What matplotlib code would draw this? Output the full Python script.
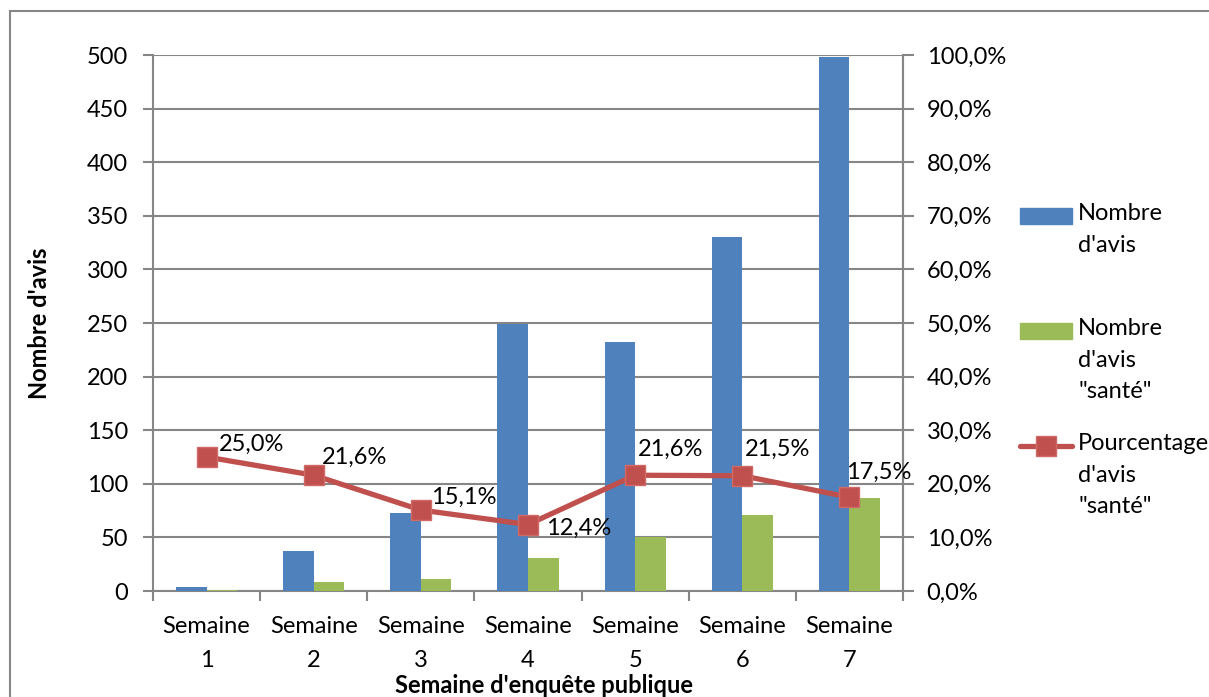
import matplotlib
matplotlib.use("Agg")
import matplotlib.pyplot as plt
from matplotlib.patches import Rectangle
from matplotlib.lines import Line2D
from matplotlib.ticker import FuncFormatter, MultipleLocator
import numpy as np

plt.rcParams['font.family'] = ['Lato', 'DejaVu Sans']

# data
semaines = ["Semaine\n1", "Semaine\n2", "Semaine\n3", "Semaine\n4",
            "Semaine\n5", "Semaine\n6", "Semaine\n7"]
nb_avis = [4, 37, 73, 249, 232, 330, 498]
nb_sante = [1, 8, 11, 31, 50, 71, 87]
pct_sante = [25.0, 21.6, 15.1, 12.4, 21.6, 21.5, 17.5]
legend_labels = ["Nombre\nd'avis", "Nombre\nd'avis\n\"santé\"",
                 "Pourcentage\nd'avis\n\"santé\""]

# where Excel put each data label (pixels from the marker)
label_offsets = [(12, 13), (8, 18), (10, 13), (18, -4), (3, 26), (3, 26), (-3, 25)]

BLUE = "#4F81BD"
GREEN = "#9BBB59"
RED = "#C0504D"
GRID = "#868686"
FS = 17

W, H = 1209, 697
fig = plt.figure(figsize=(W / 100, H / 100), dpi=100)
ax = fig.add_axes([153 / W, 1 - 591 / H, 750 / W, 536 / H])
ax2 = ax.twinx()

x = np.arange(len(semaines))
bw = 0.285
ax.bar(x - bw / 2, nb_avis, bw, color=BLUE, zorder=3)
ax.bar(x + bw / 2, nb_sante, bw, color=GREEN, zorder=3)

ax.set_xlim(-0.5, len(semaines) - 0.5)
ax.set_ylim(0, 500)
ax.yaxis.set_major_locator(MultipleLocator(50))
ax.grid(axis="y", color=GRID, lw=1.5, zorder=0)
ax.set_axisbelow(True)

# category ticks between groups, labels centred
ax.set_xticks(np.arange(-0.5, len(semaines)), minor=False)
ax.set_xticklabels([])
ax.set_xticks(x, minor=True)
ax.set_xticklabels(semaines, minor=True, fontsize=FS, linespacing=1.75)
ax.tick_params(axis="x", which="major", length=7, color=GRID, width=1.5)
ax.tick_params(axis="x", which="minor", length=0, pad=18)
ax.tick_params(axis="y", length=7, color=GRID, width=1.5, labelsize=FS, pad=11)

ax.set_ylabel("Nombre d'avis", fontsize=FS, fontweight="bold")
ax.yaxis.set_label_coords(-0.136, 0.5)
ax.set_xlabel("Semaine d'enquête publique", fontsize=FS, fontweight="bold")
ax.xaxis.set_label_coords(0.521, -0.155)

for s in ["left", "bottom", "right"]:
    ax.spines[s].set_color(GRID)
    ax.spines[s].set_linewidth(1.5)
ax.spines["top"].set_visible(False)

# percentage line on the right axis
ax2.plot(x, pct_sante, color=RED, lw=3.8, marker="s", markersize=14,
         markerfacecolor=RED, markeredgecolor="#D06A67", zorder=5)
ax2.set_ylim(0, 100)
ax2.yaxis.set_major_locator(MultipleLocator(10))
ax2.yaxis.set_major_formatter(FuncFormatter(lambda v, p: f"{v:.1f}%".replace(".", ",")))
ax2.tick_params(axis="y", length=8, color=GRID, width=1.5, labelsize=FS, pad=9)
for s in ["left", "bottom", "top"]:
    ax2.spines[s].set_visible(False)
ax2.spines["right"].set_color(GRID)
ax2.spines["right"].set_linewidth(1.5)

for i, v in enumerate(pct_sante):
    dx, dy = label_offsets[i]
    ax2.annotate(f"{v:.1f}%".replace(".", ","), (x[i], v),
                 xytext=(dx, dy), textcoords="offset pixels",
                 ha="left", va="center", fontsize=FS, zorder=6)

# legend drawn by hand, Excel style
lx = 1020 / W
tops = [216, 331, 446]
for k, lab in enumerate(legend_labels):
    yc = 1 - tops[k] / H
    if k < 2:
        fig.patches.append(Rectangle((lx, yc - 8 / H), 52 / W, 16 / H,
                                     color=[BLUE, GREEN][k],
                                     transform=fig.transFigure, figure=fig))
    else:
        fig.lines.append(Line2D([lx, lx + 52 / W], [yc, yc], color=RED, lw=3.8,
                                solid_capstyle="round",
                                transform=fig.transFigure, figure=fig))
        fig.lines.append(Line2D([lx + 26 / W], [yc], color=RED, lw=0,
                                marker="s", markersize=14,
                                markeredgecolor="#D06A67",
                                transform=fig.transFigure, figure=fig))
    fig.text(lx + 58 / W, yc + 13 / H, lab, fontsize=FS, va="top",
             ha="left", linespacing=1.62)

# outer chart frame
fig.patches.append(Rectangle((10 / W, -0.1), 2, 1 - 11 / H + 0.1, fill=False,
                             edgecolor=GRID, lw=1.5,
                             transform=fig.transFigure, figure=fig))

fig.savefig("out.png", dpi=100)
